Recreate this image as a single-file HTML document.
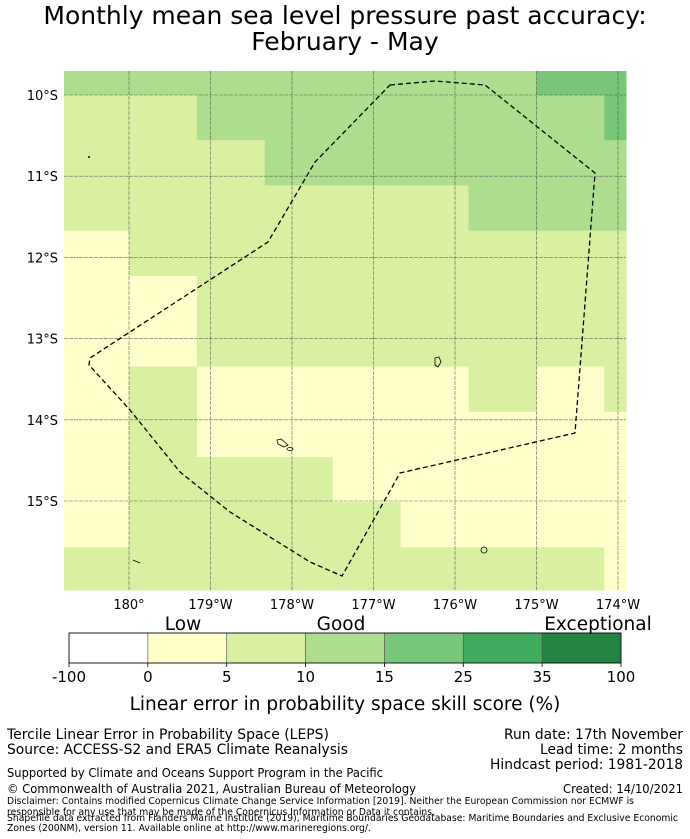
<!DOCTYPE html>
<html><head><meta charset="utf-8"><style>
body{margin:0;background:#fff;}
svg{display:block;font-family:"DejaVu Sans","Liberation Sans",sans-serif;}
</style></head><body>
<svg id="chart" width="690" height="839" viewBox="0 0 690 839" xmlns="http://www.w3.org/2000/svg">
<text x="345" y="24" font-size="25" text-anchor="middle">Monthly mean sea level pressure past accuracy:</text>
<text x="345" y="50" font-size="25" text-anchor="middle">February - May</text>
<g id="cells"></g>
<g id="grid"></g>
<g fill="none" stroke="#000" stroke-width="0.8">
<path d="M435,358 L439,357 L441,362 L438,367 L435,365 Z"/>
<path d="M277,440 L281,439 L288,445 L284,447 L278,444 Z"/>
<ellipse cx="290" cy="449" rx="3" ry="1.5"/>
<circle cx="484" cy="550" r="3"/>
<path d="M133,560 L140,563"/>
<circle cx="89" cy="157" r="0.6" fill="#000"/>
</g>
<polyline fill="none" stroke="#000" stroke-width="1.3" stroke-dasharray="5,3" points="390,85 435,81 485,85 595,173 575,433 400,473 342,576 310,562 230,512 180,472 130,410 89,365 90,358 268,242 315,162 390,85"/>
<g id="axes" font-size="13"></g>
<g id="cbar"></g>
<text x="183" y="630" font-size="18.5" text-anchor="middle">Low</text>
<text x="341" y="630" font-size="18.5" text-anchor="middle">Good</text>
<text x="598" y="630" font-size="18.5" text-anchor="middle">Exceptional</text>
<text x="345" y="710" font-size="18.5" text-anchor="middle">Linear error in probability space skill score (%)</text>
<g font-size="14">
<text x="7" y="739" textLength="322" lengthAdjust="spacingAndGlyphs">Tercile Linear Error in Probability Space (LEPS)</text>
<text x="7" y="754" textLength="341" lengthAdjust="spacingAndGlyphs">Source: ACCESS-S2 and ERA5 Climate Reanalysis</text>
<text x="683" y="739" text-anchor="end" textLength="179" lengthAdjust="spacingAndGlyphs">Run date: 17th November</text>
<text x="683" y="754" text-anchor="end" textLength="143" lengthAdjust="spacingAndGlyphs">Lead time: 2 months</text>
<text x="683" y="769" text-anchor="end" textLength="193" lengthAdjust="spacingAndGlyphs">Hindcast period: 1981-2018</text>
</g>
<g font-size="12">
<text x="7" y="777" textLength="376" lengthAdjust="spacingAndGlyphs">Supported by Climate and Oceans Support Program in the Pacific</text>
<text x="7" y="793" textLength="409" lengthAdjust="spacingAndGlyphs">© Commonwealth of Australia 2021, Australian Bureau of Meteorology</text>
<text x="683" y="793" text-anchor="end" textLength="120" lengthAdjust="spacingAndGlyphs">Created: 14/10/2021</text>
</g>
<g font-size="9.5">
<text x="7" y="804" textLength="627" lengthAdjust="spacingAndGlyphs">Disclaimer: Contains modified Copernicus Climate Change Service Information [2019]. Neither the European Commission nor ECMWF is</text>
<text x="7" y="815" textLength="428" lengthAdjust="spacingAndGlyphs">responsible for any use that may be made of the Copernicus Information or Data it contains.</text>
<text x="7" y="821" textLength="671" lengthAdjust="spacingAndGlyphs">Shapefile data extracted from Flanders Marine Institute (2019), Maritime Boundaries Geodatabase: Maritime Boundaries and Exclusive Economic</text>
<text x="7" y="831" textLength="364" lengthAdjust="spacingAndGlyphs">Zones (200NM), version 11. Available online at http://www.marineregions.org/.</text>
</g>
</svg>
<script>
// skill category per cell (0:0-5,1:5-10,2:10-15,3:15-25), rows top->bottom, cols left->right
const cellRows = [
 [2,2,2,2,2,2,2,3,3],
 [1,1,2,2,2,2,2,2,3],
 [1,1,1,2,2,2,2,2,2],
 [1,1,1,1,1,1,2,2,2],
 [0,1,1,1,1,1,1,1,1],
 [0,0,1,1,1,1,1,1,1],
 [0,0,1,1,1,1,1,1,1],
 [0,1,0,0,0,0,1,0,1],
 [0,1,0,0,0,0,0,0,0],
 [0,1,1,1,0,0,0,0,0],
 [0,1,1,1,1,0,0,0,0],
 [1,1,1,1,1,1,1,1,0]
];
const binColors = ["#ffffcc","#d9f0a3","#addd8e","#78c679","#41ab5d","#238443"];
const cbarColors = ["#ffffff","#ffffcc","#d9f0a3","#addd8e","#78c679","#41ab5d","#238443"];
const cbarTicks = ["-100","0","5","10","15","25","35","100"];
const latTicks = [10,11,12,13,14,15];
const lonTicks = [180,179,178,177,176,175,174];
const lonLabels = ["180°","179°W","178°W","177°W","176°W","175°W","174°W"];

const NS="http://www.w3.org/2000/svg";
const mapL=64,mapR=626,mapT=71,mapB=590;
const lonX = lon => 129 + (180-lon)*81.5;
const latY = lat => 95 + (lat-10)*81.2;
const colX = i => Math.max(mapL, Math.min(mapR, 129 + (i-1)*67.9));
const rowY = j => Math.max(mapT, Math.min(mapB, 95 + (j-1)*45.25));
function mk(tag,attrs,parent){const e=document.createElementNS(NS,tag);for(const k in attrs)e.setAttribute(k,attrs[k]);parent.appendChild(e);return e;}
const cells=document.getElementById('cells');
cellRows.forEach((row,j)=>row.forEach((v,i)=>{
  const x0=colX(i),x1=colX(i+1),y0=rowY(j),y1=rowY(j+1);
  const r=mk('rect',{x:x0,y:y0,width:x1-x0+0.5,height:y1-y0+0.5,fill:binColors[v]},cells);
  
  
}));
const grid=document.getElementById('grid');
const axes=document.getElementById('axes');
lonTicks.forEach((lon,k)=>{
  const x=lonX(lon);
  const l=mk('line',{x1:x,x2:x,y1:mapT,y2:mapB,stroke:'#444','stroke-width':0.6,'stroke-dasharray':'4,1','stroke-opacity':0.8},grid);
  
  
  const t=mk('text',{x:x,y:609,'text-anchor':'middle'},axes);
  t.textContent=lonLabels[k];
  
  
});
latTicks.forEach(lat=>{
  const y=latY(lat);
  const l=mk('line',{x1:mapL,x2:mapR,y1:y,y2:y,stroke:'#444','stroke-width':0.6,'stroke-dasharray':'4,1','stroke-opacity':0.8},grid);
  
  
  const t=mk('text',{x:58,y:y+5,'text-anchor':'end'},axes);
  t.textContent=lat+'°S';
  
  
});
const cb=document.getElementById('cbar');
const cbL=69,cbR=621,cbT=633,cbB=663,segW=(cbR-cbL)/cbarColors.length;
cbarColors.forEach((c,i)=>{
  const r=mk('rect',{x:cbL+i*segW,y:cbT,width:segW,height:cbB-cbT,fill:c,stroke:'#555','stroke-width':0.6},cb);
  
  
});
mk('rect',{x:cbL,y:cbT,width:cbR-cbL,height:cbB-cbT,fill:'none',stroke:'#000','stroke-width':0.8},cb);
cbarTicks.forEach((t,i)=>{
  const x=cbL+i*segW;
  mk('line',{x1:x,x2:x,y1:cbB,y2:cbB+4,stroke:'#000','stroke-width':0.8},cb);
  const e=mk('text',{x:x,y:682,'text-anchor':'middle','font-size':15},cb);
  e.textContent=t;
  
  
});
</script>
</body></html>
